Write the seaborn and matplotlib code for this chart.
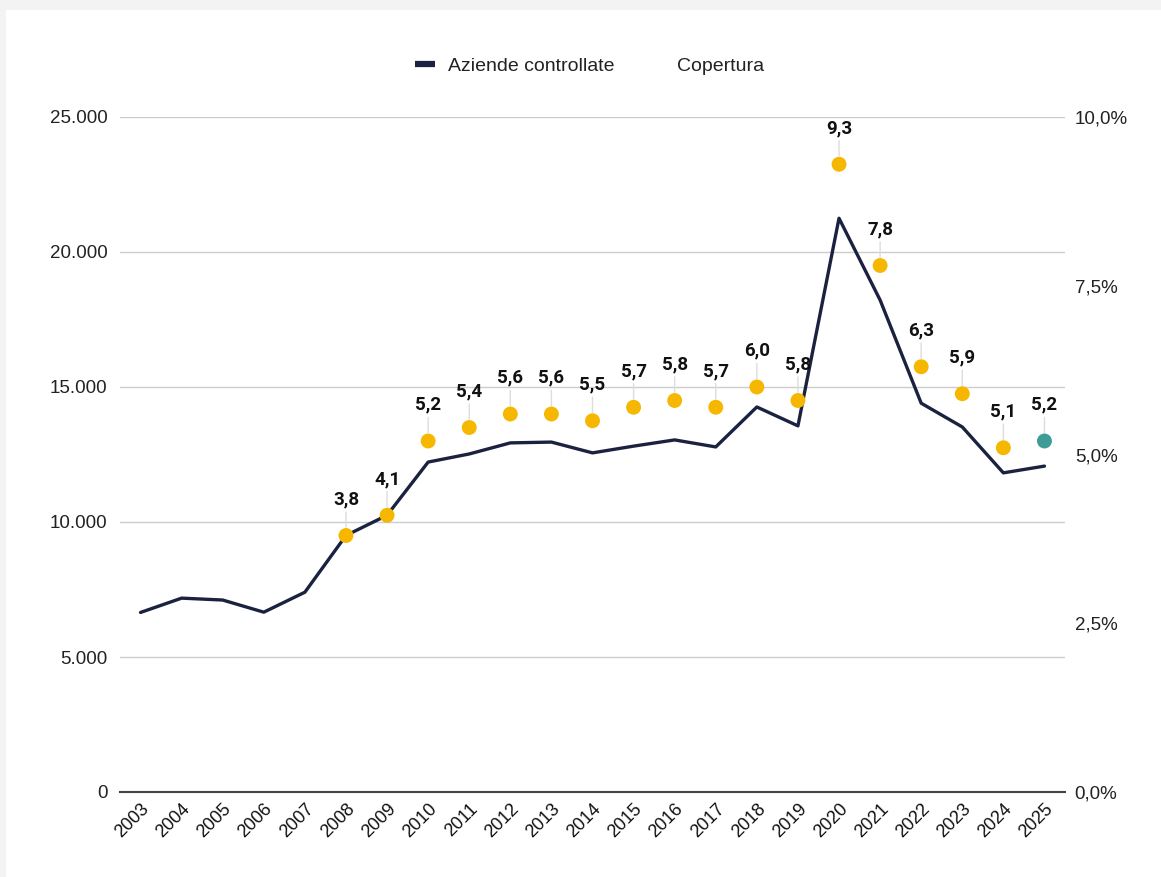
import matplotlib
matplotlib.use("Agg")
import numpy as np
import pandas as pd
import seaborn as sns
import matplotlib.pyplot as plt
from matplotlib.lines import Line2D
from matplotlib.patches import Rectangle
from matplotlib.ticker import FuncFormatter

# data
years = list(range(2003, 2026))
aziende = [6650, 7180, 7110, 6660, 7400, 9500, 10250, 12220, 12520, 12930,
           12960, 12560, 12810, 13040, 12780, 14260, 13560, 21250, 18220,
           14400, 13520, 11820, 12070]
cov_years = list(range(2008, 2026))
copertura = [3.8, 4.1, 5.2, 5.4, 5.6, 5.6, 5.5, 5.7, 5.8, 5.7, 6.0, 5.8,
             9.3, 7.8, 6.3, 5.9, 5.1, 5.2]

LINE_COL = "#1b2240"
DOT_COL = "#f6b700"
LAST_COL = "#3d9c95"

df = pd.DataFrame({"anno": years, "aziende": aziende})
dc = pd.DataFrame({"anno": cov_years, "copertura": copertura})
dc["colore"] = [DOT_COL] * (len(dc) - 1) + [LAST_COL]

sns.set_style("white")
plt.rcParams["font.family"] = ["Liberation Sans", "DejaVu Sans"]

fig = plt.figure(figsize=(11.61, 8.77), dpi=100, facecolor="#f3f3f3")
fig.add_artist(Rectangle((6 / 1161, 0), 1, 1 - 10 / 877, transform=fig.transFigure,
                         facecolor="white", edgecolor="none", zorder=-10))
ax = fig.add_axes([120 / 1161, 85 / 877, 945 / 1161, 675 / 877])
ax.set_facecolor("none")

sns.lineplot(data=df, x="anno", y="aziende", ax=ax, color=LINE_COL, lw=2.4, zorder=3)
ax.set_ylim(0, 25000)
ax.set_xlim(2002.5, 2025.5)
ax.set_yticks(range(0, 25001, 5000))
ax.yaxis.set_major_formatter(FuncFormatter(lambda v, p: f"{int(v):,}".replace(",", ".")))
ax.set_xticks(years)
ax.set_xticklabels([str(y) for y in years], rotation=45, ha="right", rotation_mode="anchor")
ax.grid(axis="y", color="#cccccc", lw=1)
ax.tick_params(axis="y", length=0, pad=9, labelsize=13.5, labelcolor="#222222")
ax.tick_params(axis="x", length=0, pad=6, labelsize=13, labelcolor="#111111")
for s in ["top", "left", "right"]:
    ax.spines[s].set_visible(False)
ax.spines["bottom"].set_color("#444444")
ax.spines["bottom"].set_linewidth(1.5)
ax.set_xlabel("")
ax.set_ylabel("")

ax2 = ax.twinx()
sns.scatterplot(data=dc, x="anno", y="copertura", ax=ax2, hue="colore",
                palette={DOT_COL: DOT_COL, LAST_COL: LAST_COL}, s=115,
                edgecolor="none", legend=False, zorder=4)
ax2.set_ylim(0, 10)
ax2.set_yticks([0, 2.5, 5, 7.5, 10])
ax2.yaxis.set_major_formatter(FuncFormatter(lambda v, p: f"{v:.1f}%".replace(".", ",")))
ax2.tick_params(axis="y", length=0, pad=7, labelsize=13.5, labelcolor="#222222")
for s in ax2.spines.values():
    s.set_visible(False)
ax2.set_ylabel("")

for x, y in zip(dc["anno"], dc["copertura"]):
    ax2.annotate("", xy=(x, y), xytext=(0, 17), textcoords="offset points",
                 arrowprops=dict(arrowstyle="-", color="#dddddd", lw=1,
                                 shrinkA=0, shrinkB=6))
    ax2.annotate(f"{y:.1f}".replace(".", ","), xy=(x, y), xytext=(0, 26),
                 textcoords="offset points", ha="center", va="center",
                 fontsize=13.5, fontweight="bold", family=["Roboto", "DejaVu Sans"],
                 color="#111111")

handles = [Line2D([0], [0], color=LINE_COL, lw=4.5, solid_capstyle="butt"),
           Line2D([0], [0], color="none")]
fig.legend(handles, ["Aziende controllate", "Copertura"], loc="center",
           bbox_to_anchor=(0.508, 1 - 66 / 877), ncol=2, frameon=False,
           fontsize=14, handlelength=1.0, handletextpad=0.7, columnspacing=1.5,
           labelcolor="#222222")

fig.savefig("out.png", dpi=100, facecolor=fig.get_facecolor())
